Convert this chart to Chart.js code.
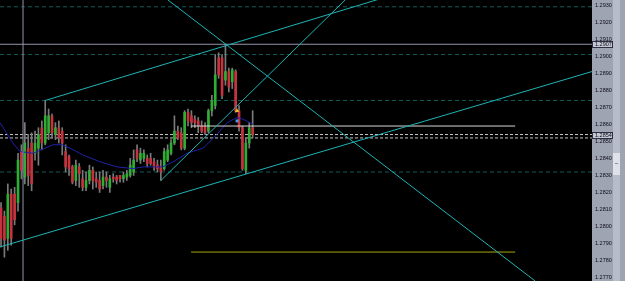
<!DOCTYPE html>
<html>
<head>
<meta charset="utf-8">
<script src="https://cdn.jsdelivr.net/npm/chart.js@4.4.0/dist/chart.umd.min.js"></script>
<style>
  html, body { margin: 0; padding: 0; background: #000; }
  #wrap { width: 625px; height: 281px; position: relative; }
</style>
</head>
<body>
<div id="wrap"><canvas id="chart"></canvas></div>
<script>
// candles, left to right (bar number = position in the arrays)
const opens  = [1.2811,1.2806,1.2793,1.2819,1.2819,1.2814,1.2844,1.2829,1.2846,1.2849,
                1.2843,1.2846,1.2858,1.2849,1.2855,1.2865,1.2854,1.2858,1.2856,1.2844,
                1.2841,1.2835,1.2827,1.2835,1.2828,1.2823,1.2827,1.2833,1.2828,1.2827,
                1.2824,1.2829,1.2823,1.2829,1.2829,1.2830,1.2828,1.2829,1.2830,1.2832,
                1.2845,1.2839,1.2840,1.2840,1.2840,1.2838,1.2836,1.2835,1.2834,1.2839,
                1.2843,1.2849,1.2856,1.2855,1.2846,1.2867,1.2865,1.2863,1.2862,1.2859,
                1.2859,1.2856,1.2868,1.2871,1.2899,1.2899,1.2886,1.2891,1.2885,1.2891,
                1.2868,1.2858,1.2833,1.2849,1.2858];
const highs  = [1.2814,1.2809,1.2825,1.2822,1.2823,1.2843,1.2848,1.2861,1.2854,1.2855,
                1.2856,1.2858,1.2862,1.2874,1.2869,1.2866,1.2861,1.2862,1.2858,1.2848,
                1.2842,1.2836,1.2839,1.2837,1.2833,1.2832,1.2836,1.2835,1.2832,1.2832,
                1.2833,1.2832,1.2830,1.2831,1.2830,1.2830,1.2832,1.2833,1.2840,1.2845,
                1.2848,1.2846,1.2845,1.2842,1.2843,1.2840,1.2839,1.2839,1.2846,1.2848,
                1.2851,1.2865,1.2859,1.2858,1.2868,1.2869,1.2868,1.2865,1.2864,1.2862,
                1.2861,1.2869,1.2877,1.2901,1.2902,1.2901,1.2907,1.2893,1.2893,1.2892,
                1.2871,1.2859,1.2852,1.2861,1.2868];
const lows   = [1.2788,1.2782,1.2786,1.2789,1.2801,1.2809,1.2828,1.2825,1.2824,1.2821,
                1.2839,1.2836,1.2845,1.2848,1.2851,1.2852,1.2851,1.2849,1.2842,1.2832,
                1.2830,1.2825,1.2824,1.2823,1.2821,1.2821,1.2825,1.2822,1.2823,1.2820,
                1.2822,1.2823,1.2820,1.2826,1.2825,1.2826,1.2826,1.2827,1.2829,1.2830,
                1.2838,1.2837,1.2838,1.2835,1.2836,1.2833,1.2832,1.2827,1.2833,1.2838,
                1.2842,1.2848,1.2851,1.2845,1.2845,1.2859,1.2858,1.2858,1.2855,1.2855,
                1.2854,1.2855,1.2865,1.2869,1.2887,1.2875,1.2883,1.2879,1.2881,1.2867,
                1.2856,1.2833,1.2831,1.2846,1.2852];
const closes = [1.2793,1.2792,1.2819,1.2793,1.2804,1.2839,1.2833,1.2849,1.2830,1.2825,
                1.2849,1.2854,1.2849,1.2865,1.2865,1.2855,1.2858,1.2852,1.2849,1.2835,
                1.2834,1.2826,1.2836,1.2831,1.2823,1.2827,1.2833,1.2827,1.2826,1.2822,
                1.2829,1.2827,1.2828,1.2828,1.2827,1.2828,1.2830,1.2831,1.2836,1.2839,
                1.2840,1.2843,1.2843,1.2837,1.2837,1.2835,1.2834,1.2832,1.2844,1.2845,
                1.2849,1.2856,1.2852,1.2846,1.2867,1.2862,1.2861,1.2861,1.2859,1.2856,
                1.2855,1.2868,1.2874,1.2889,1.2889,1.2877,1.2891,1.2882,1.2892,1.2868,
                1.2858,1.2834,1.2849,1.2858,1.2854];

// moving average as [bar, price]
const maPoints = [[-0.3,1.2861],[3.5,1.2849],[5.6,1.2844],[9.4,1.2843],[15.3,1.2848],[17.9,1.2848],
                  [20.3,1.2846],[24.1,1.2842],[29.1,1.2838],[34.1,1.2835],[38.8,1.2834],[41.8,1.2835],
                  [47.6,1.2835],[50.6,1.2838],[54.7,1.2843],[59.4,1.2846],[63.5,1.2854],[66.5,1.2861],
                  [69.4,1.2864],[71.2,1.2863],[73.2,1.2861],[74.1,1.2860]];

// drawn objects, as [bar, price] end points
const channelTop    = [[13, 1.2874], [112, 1.2934]];
const channelBottom = [[-0.3, 1.2788], [173.8, 1.2891]];
const fanUp         = [[47, 1.2827], [101.2, 1.2933]];
const fanDown       = [[49.1, 1.2933], [157.1, 1.2768]];
const whiteLine     = [[55.9, 1.2859], [151.2, 1.2859]];
const yellowLine    = [[55.9, 1.2785], [151.2, 1.2785]];
const dayHigh       = 1.2907;
const bidAsk        = [1.2854, 1.2852];
const levels        = [1.2929, 1.2901, 1.2874, 1.2832];
const vLineBar      = 6.47;
const arrowUp       = [69.4, 1.2868];
const arrowDown     = [69.4, 1.2862];

const tickValues = [1.2770,1.2780,1.2790,1.2800,1.2810,1.2820,1.2830,1.2840,1.2850,
                    1.2860,1.2870,1.2880,1.2890,1.2900,1.2910,1.2920,1.2930];
const markedPrices = [1.2907, 1.2854];

const xMin = -0.3, xMax = 173.8;
const yMin = 1.2768, yMax = 1.2933;

const pts = arr => arr.map(p => ({x: p[0], y: p[1]}));
const hline = v => [{x: xMin, y: v}, {x: xMax, y: v}];

const bodies = opens.map((o, i) => ({x: i, y: [o, closes[i]]}));
const wicks = lows.map((l, i) => ({x: i, y: [l, highs[i]]}));
const bodyColors = opens.map((o, i) => closes[i] >= o ? '#2fae33' : '#c6323d');

function lineSet(data, color, order, dash) {
  return {
    type: 'line', data: data, borderColor: color, borderWidth: 1,
    borderDash: dash || [], pointRadius: 0, tension: 0, order: order
  };
}

const datasets = [
  lineSet(pts(channelTop), '#1fb3b3', 1),
  lineSet(pts(channelBottom), '#1fb3b3', 1),
  lineSet(pts(fanUp), '#1fb3b3', 1),
  lineSet(pts(fanDown), '#1fb3b3', 1),
  lineSet(pts(whiteLine), '#d8d8d8', 1),
  lineSet(pts(yellowLine), '#a8a810', 1),
  lineSet(hline(dayHigh), '#9494ac', 1),
  lineSet([{x: vLineBar, y: yMin}, {x: vLineBar, y: yMax}], '#9494ac', 1),
  lineSet(pts(maPoints), '#1e22a8', 2),
  { type: 'bar', data: bodies, backgroundColor: bodyColors, barThickness: 2,
    grouped: false, minBarLength: 1, order: 3 },
  { type: 'bar', data: wicks, backgroundColor: '#7a7a7a', barThickness: 1,
    grouped: false, order: 4 },
  lineSet(hline(bidAsk[0]), '#c8c8c8', 5, [3, 2]),
  lineSet(hline(bidAsk[1]), '#c8c8c8', 5, [3, 2]),
];
levels.forEach(v => datasets.push(lineSet(hline(v), '#125a5a', 6, [4, 3])));
datasets.push({
  type: 'scatter', data: [{x: arrowUp[0], y: arrowUp[1]}], pointStyle: 'triangle',
  pointRadius: 2.5, backgroundColor: '#e8c020', borderWidth: 0, order: 0
});
datasets.push({
  type: 'scatter', data: [{x: arrowDown[0], y: arrowDown[1]}], pointStyle: 'rect',
  pointRadius: 2, backgroundColor: '#4aa0e0', borderWidth: 0, order: 0
});

const panelPlugin = {
  id: 'panel',
  beforeDraw(chart) {
    const {ctx, chartArea: a, width, height} = chart;
    ctx.save();
    ctx.fillStyle = '#9fa4b3';
    ctx.fillRect(0, 0, width, height);
    ctx.fillStyle = '#b8bcc8';
    ctx.fillRect(width - 12, 0, 7, height);
    ctx.fillStyle = '#dfe1e8';
    ctx.fillRect(width - 12, 153, 7, 22);
    ctx.fillStyle = '#8a8ea0';
    ctx.fillRect(width - 10, 163, 3, 1);
    ctx.fillStyle = '#000';
    ctx.fillRect(a.left, a.top, a.right - a.left, a.bottom - a.top);
    ctx.restore();
  },
  afterDraw(chart) {
    const {ctx, chartArea: a} = chart;
    const y = chart.scales.y;
    ctx.save();
    ctx.font = '5.5px "Liberation Sans"';
    ctx.textBaseline = 'middle';
    markedPrices.forEach(p => {
      const py = Math.round(y.getPixelForValue(p));
      ctx.fillStyle = '#c4c8d3';
      ctx.fillRect(a.right, py - 3, 20, 7);
      ctx.strokeStyle = '#2c2c44';
      ctx.lineWidth = 1;
      ctx.strokeRect(a.right + 0.5, py - 2.5, 20, 6);
      ctx.fillStyle = '#0c0c14';
      ctx.fillText(p.toFixed(4), a.right + 3, py + 0.5);
    });
    ctx.restore();
  }
};

new Chart(document.getElementById('chart'), {
  type: 'bar',
  data: { datasets: datasets },
  options: {
    responsive: true,
    maintainAspectRatio: false,
    animation: false,
    layout: { padding: 0, autoPadding: false },
    plugins: { legend: { display: false }, tooltip: { enabled: false } },
    events: [],
    scales: {
      x: { type: 'linear', min: xMin, max: xMax, offset: false, display: false },
      y: {
        position: 'right', min: yMin, max: yMax,
        grid: { display: false, drawTicks: false },
        border: { display: false },
        afterBuildTicks: s => { s.ticks = tickValues.map(v => ({value: v})); },
        afterFit: s => { s.width = 33; s.paddingTop = 0; s.paddingBottom = 0; },
        ticks: {
          padding: 3, color: '#0c0c14',
          font: { family: 'Liberation Sans', size: 5.5 },
          callback: v => v.toFixed(4)
        }
      }
    }
  },
  plugins: [panelPlugin]
});
</script>
</body>
</html>
